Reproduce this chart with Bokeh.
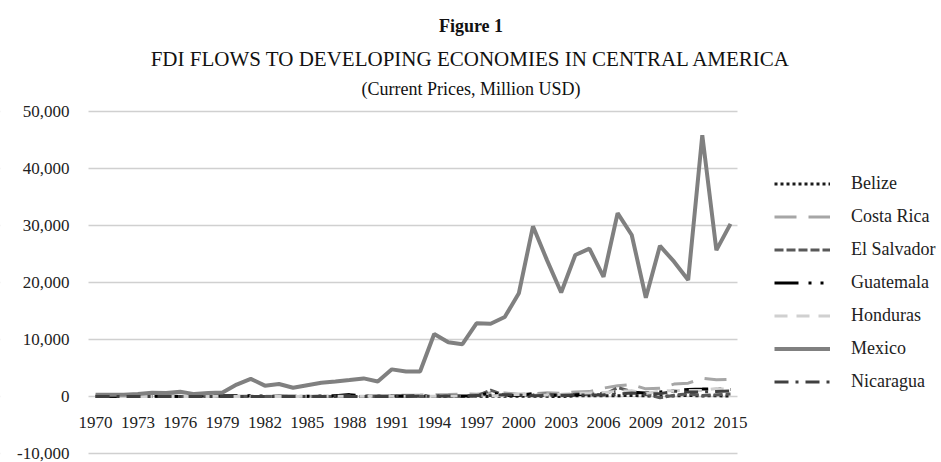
from bokeh.plotting import figure
from bokeh.models import (FixedTicker, NumeralTickFormatter, Range1d, Legend, LegendItem,
                          LinearAxis, Title, BoxAnnotation, Grid)
from bokeh.embed import file_html
from bokeh.resources import INLINE

years = list(range(1970, 2016))
tick_years = list(range(1970, 2016, 3))
y_ticks = [-10000, 0, 10000, 20000, 30000, 40000, 50000]

belize = [2, 3, 3, 4, 5, 6, 7, 7, 8, 8, 8, 8, 5, 4, 4, 6, 6, 9, 14, 18, 17, 14, 16, 9, 15, 21, 17, 12, 18, 54,
          23, 61, 25, -11, 111, 127, 109, 143, 170, 109, 97, 95, 194, 92, 141, 65]
costa_rica = [26, 22, 26, 37, 47, 69, 61, 63, 47, 42, 48, 66, 27, 55, 52, 65, 57, 121, 122, 101, 163, 178, 226, 247,
              298, 337, 427, 407, 612, 620, 409, 460, 659, 575, 794, 861, 1469, 1896, 2078, 1347, 1466, 2176, 2332,
              3205, 2927, 3000]
el_salvador = [4, 7, 6, 6, 20, 13, 6, 19, 23, -10, 6, -6, 1, 28, 12, 12, 24, 18, 17, 14, 2, 25, 15, 16, 0, 38, -5,
               59, 1104, 216, 173, 279, 470, 142, 376, 511, 241, 1551, 903, 366, -226, 218, 484, 176, 311, 429]
guatemala = [29, 29, 17, 38, 48, 81, 11, 98, 127, 117, 111, 127, 77, 45, 38, 62, 69, 150, 330, 76, 48, 91, 94, 143,
             65, 75, 77, 85, 673, 155, 230, 488, 183, 218, 255, 470, 552, 745, 754, 600, 806, 1026, 1245, 1295,
             1389, 1221]
honduras = [8, -1, 6, 8, -2, 7, 6, 9, 13, 28, 6, -4, 14, 21, 21, 28, 30, 39, 48, 51, 44, 52, 48, 52, 42, 69, 90,
            128, 99, 237, 382, 304, 275, 403, 547, 600, 669, 926, 1006, 509, 969, 1014, 1059, 1060, 1417, 1204]
mexico = [323, 307, 301, 457, 678, 609, 820, 420, 600, 720, 2090, 3100, 1900, 2192, 1542, 1984, 2401, 2635, 2880,
          3176, 2633, 4762, 4393, 4389, 10973, 9526, 9185, 12830, 12757, 13940, 18110, 29859, 23883, 18255,
          24819, 25944, 20996, 32182, 28337, 17331, 26431, 23649, 20437, 45855, 25675, 30285]
nicaragua = [15, 13, 11, 13, 15, 11, 13, 10, 7, 3, 0, 0, 0, 8, 0, 0, 0, 0, 0, 0, 1, 0, 15, 39, 40, 75, 97, 173,
             184, 300, 267, 150, 204, 201, 250, 241, 287, 382, 626, 434, 490, 936, 768, 816, 884, 950]

series = [
    ("Belize", belize, "#1a1a1a", 3, "3 3"),
    ("Costa Rica", costa_rica, "#a6a6a6", 3, "22 12"),
    ("El Salvador", el_salvador, "#595959", 3, "9 3"),
    ("Guatemala", guatemala, "#000000", 3, "24 10 3 9 3 10"),
    ("Honduras", honduras, "#d0d0d0", 3, "13 9"),
    ("Mexico", mexico, "#808080", 4, "solid"),
    ("Nicaragua", nicaragua, "#404040", 3, "14 7 3 7"),
]

FONT = "Liberation Serif"
W, H = 941, 462
BAND = 14.11              # pixels per year
PLOT_L, PLOT_R = 88, 737  # pixel extent of the gridded plot area
PLOT_T, PLOT_B = 111, 453 # pixel rows of the top and bottom gridlines
FRAME_T = 100             # frame top (room for the top tick label)
x0 = years[0] - 0.5 - PLOT_L / BAND
x1 = x0 + W / BAND
upp = (y_ticks[-1] - y_ticks[0]) / (PLOT_B - PLOT_T)   # data units per pixel
y0 = y_ticks[0] - (H - PLOT_B) * upp
y1 = y_ticks[-1] + (PLOT_T - FRAME_T) * upp

p = figure(width=W, height=H, output_backend="svg", toolbar_location=None,
           x_range=Range1d(x0, x1), y_range=Range1d(y0, y1),
           x_axis_type=None, y_axis_type=None,
           min_border_left=0, min_border_right=0, min_border_top=FRAME_T, min_border_bottom=0)
p.outline_line_color = None
p.background_fill_color = "white"
p.border_fill_color = "white"

p.xgrid.visible = False
p.ygrid.visible = False

# y axis inside the frame, at the left edge of the plot area
yax = LinearAxis(ticker=FixedTicker(ticks=y_ticks), formatter=NumeralTickFormatter(format="0,0"),
                 fixed_location=years[0] - 0.5)
yax.axis_line_color = None
yax.major_tick_line_color = None
yax.minor_tick_line_color = None
yax.major_label_text_font = FONT
yax.major_label_text_font_size = "17px"
yax.major_label_text_color = "#222222"
yax.major_label_standoff = 13
p.add_layout(yax, "left")

g = Grid(dimension=1, ticker=FixedTicker(ticks=y_ticks), grid_line_color="#d0d0d0", grid_line_width=1.5)
p.add_layout(g, "center")

# hide grid outside of the plot area
for l, r in [(0, PLOT_L), (PLOT_R, W)]:
    p.add_layout(BoxAnnotation(left=l, right=r, left_units="screen", right_units="screen",
                               fill_color="white", fill_alpha=1, line_color=None, level="underlay"))

# x axis at y = 0
xax = LinearAxis(ticker=FixedTicker(ticks=tick_years), fixed_location=0)
xax.axis_line_color = None
xax.major_tick_line_color = None
xax.minor_tick_line_color = None
xax.major_label_text_font = FONT
xax.major_label_text_font_size = "17px"
xax.major_label_text_color = "#222222"
xax.major_label_standoff = 14
p.add_layout(xax, "below")

items = []
for name, vals, color, width, dash in series:
    r = p.line(years, vals, line_color=color, line_width=width, line_dash=dash)
    items.append(LegendItem(label=name, renderers=[r]))

legend = Legend(items=items, location=(774, H - 397.5), orientation="vertical")
legend.border_line_color = None
legend.background_fill_alpha = 0
legend.padding = 0
legend.margin = 0
legend.spacing = 0
legend.glyph_width = 56
legend.glyph_height = 33
legend.label_height = 33
legend.label_standoff = 21
legend.label_text_font = FONT
legend.label_text_font_size = "18px"
legend.label_text_color = "#222222"
legend.label_text_baseline = "middle"
p.add_layout(legend, "center")

# titles: added nearest-to-frame first
for txt, style, size, so in [("(Current Prices, Million USD)", "normal", "18px", 4),
                             ("FDI FLOWS TO DEVELOPING ECONOMIES IN CENTRAL AMERICA", "normal", "21px", 8),
                             ("Figure 1", "bold", "18px", 10)]:
    p.add_layout(Title(text=txt, align="center", text_font=FONT, text_font_size=size,
                       text_font_style=style, text_color="#111111", standoff=so), "above")

open("out.html", "w").write(file_html(p, INLINE))
